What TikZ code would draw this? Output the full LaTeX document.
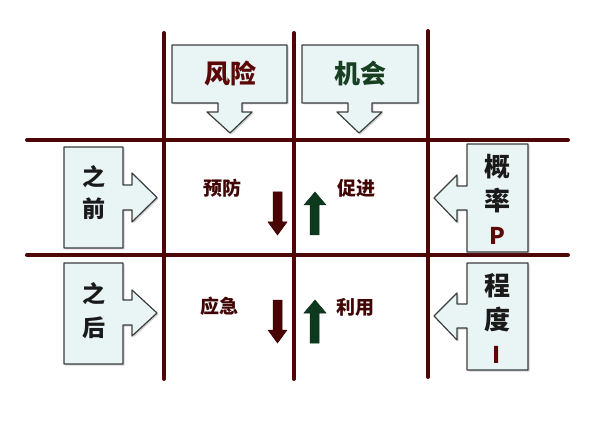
\documentclass[tikz,border=0pt]{standalone}
\usepackage{fontspec}
\newfontfamily\cjk{Noto Sans CJK SC}
\usetikzlibrary{shadows}
\definecolor{Grid}{HTML}{4E0606}
\definecolor{BoxFill}{HTML}{E9F4F4}
\definecolor{BoxLine}{HTML}{3A3E3E}
\definecolor{RiskRed}{HTML}{5C0707}
\definecolor{ChanceGreen}{HTML}{173F22}
\definecolor{DownRed}{HTML}{4A0303}
\definecolor{UpGreen}{HTML}{0D3A1F}
\definecolor{Ink}{HTML}{1A1A1A}
\tikzset{
  gridline/.style={draw=Grid,line width=4pt,line cap=round},
  callout/.style={draw=BoxLine,fill=BoxFill,line width=1.2pt,line join=round,
    drop shadow={shadow xshift=1.5pt,shadow yshift=-1.5pt,opacity=0.35}},
  headtext/.style={font=\cjk\bfseries\fontsize{26}{30}\selectfont,inner sep=0pt},
  sidetext/.style={font=\cjk\bfseries\fontsize{23}{34}\selectfont,text=Ink,align=center,inner sep=0pt},
  celltext/.style={font=\cjk\bfseries\fontsize{19}{22}\selectfont,text=RiskRed!70!black,inner sep=0pt},
  downarrow/.style={fill=DownRed,draw=DownRed!80!black,line width=0.5pt},
  uparrow/.style={fill=UpGreen,draw=UpGreen!80!black,line width=0.5pt}
}

\begin{document}
\begin{tikzpicture}[x=1pt,y=-1pt]
  \useasboundingbox (0,0) rectangle (600,422);
  % grid
  \foreach \gx/\gt/\gb in {164/33/379,294/33/379,428/31/377}
    \draw[gridline] (\gx,\gt) -- (\gx,\gb);
  \foreach \gy in {140,255}
    \draw[gridline] (27,\gy) -- (568,\gy);

  % column heads
  \filldraw[callout] (172,45) -- (287,45) -- (287,103) -- (242,103) -- (242,112) -- (252,112)
    -- (230,133) -- (207,112) -- (218,112) -- (218,103) -- (172,103) -- cycle;
  \filldraw[callout] (302,45) -- (418,45) -- (418,103) -- (372,103) -- (372,112) -- (382,112)
    -- (359,133) -- (337,112) -- (348,112) -- (348,103) -- (302,103) -- cycle;
  \node[headtext,text=RiskRed] (risk) at (230,74) {风险};
  \node[headtext,text=ChanceGreen] (chance) at (360,74) {机会};

  % row heads, left
  \filldraw[callout] (64,147) -- (123,147) -- (123,185) -- (132,185) -- (132,173) -- (157,197.5)
    -- (132,222) -- (132,210) -- (123,210) -- (123,248) -- (64,248) -- cycle;
  \filldraw[callout] (64,263) -- (123,263) -- (123,300) -- (132,300) -- (132,290) -- (157,313)
    -- (132,336) -- (132,325) -- (123,325) -- (123,364) -- (64,364) -- cycle;
  \node[sidetext,font=\cjk\bfseries\fontsize{23}{32}\selectfont] (before) at (94,193) {之\\前};
  \node[sidetext] (after) at (94,311) {之\\后};

  % row heads, right
  \filldraw[callout] (528,144) -- (467,144) -- (467,186) -- (457,186) -- (457,175) -- (434,198)
    -- (457,222) -- (457,210) -- (467,210) -- (467,252) -- (528,252) -- cycle;
  \filldraw[callout] (528,263) -- (467,263) -- (467,304) -- (457,304) -- (457,293) -- (434,316)
    -- (457,340) -- (457,328) -- (467,328) -- (467,370) -- (528,370) -- cycle;
  \node[sidetext,font=\cjk\bfseries\fontsize{26}{34}\selectfont] (prob) at (497,199)
    {概\\率\\{\fontsize{23}{34}\selectfont\color{RiskRed}P}};
  \node[sidetext,font=\cjk\bfseries\fontsize{26}{34}\selectfont] (impact) at (497,318)
    {程\\度\\{\fontsize{23}{34}\selectfont\color{RiskRed}I}};

  % cells
  \node[celltext] (prevent) at (222,188) {预防};
  \node[celltext] (promote) at (356,188) {促进};
  \node[celltext] (respond) at (219,306) {应急};
  \node[celltext] (exploit) at (355,307) {利用};

  \foreach \ay in {192,300} {
    \filldraw[downarrow] (273,\ay) -- (282,\ay) -- (282,\ay+30) -- (287,\ay+30) -- (277.5,\ay+43)
      -- (268,\ay+30) -- (273,\ay+30) -- cycle;
    \filldraw[uparrow] (310,\ay+43) -- (319,\ay+43) -- (319,\ay+13) -- (326,\ay+13) -- (315,\ay)
      -- (304,\ay+13) -- (310,\ay+13) -- cycle;
  }
\end{tikzpicture}
\end{document}
